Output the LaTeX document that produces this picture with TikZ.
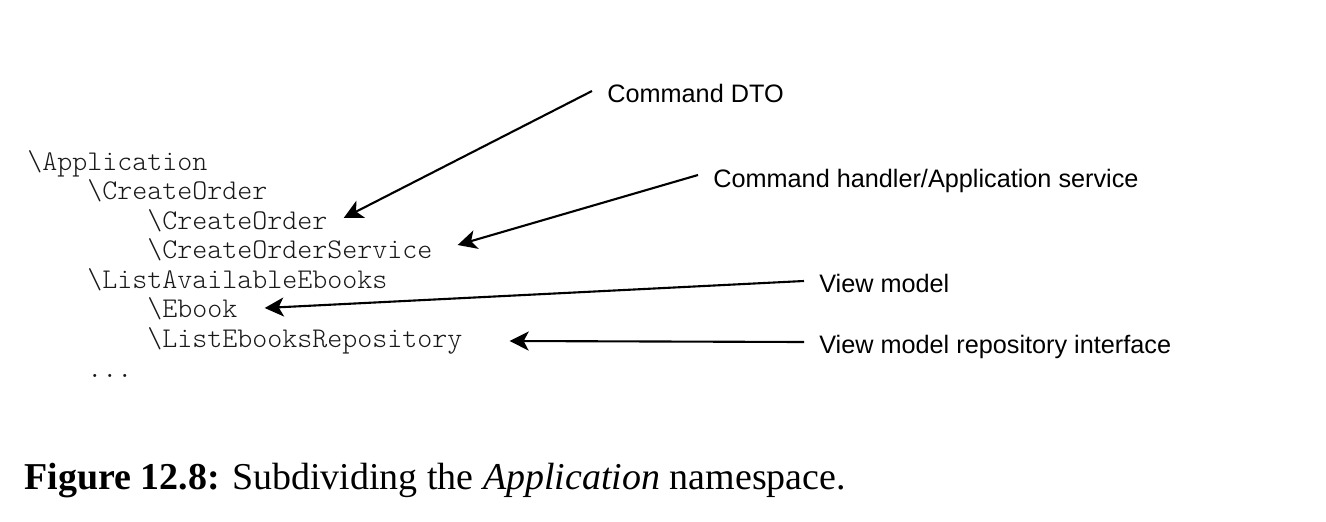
\documentclass[tikz,border=0pt]{standalone}
\usepackage{fontspec}
\setmainfont{Liberation Serif}
\setsansfont{Liberation Sans}
\newfontfamily\codefont{Latin Modern Mono Light}
\usetikzlibrary{arrows.meta,calc}
\tikzset{
  code/.style={inner sep=0pt, anchor=base west, text=black!90,
    font=\codefont\fontsize{16.26pt}{19pt}\selectfont},
  lab/.style={inner xsep=0.3cm, inner ysep=0pt, anchor=base west,
    font=\sffamily\fontsize{14.37pt}{17pt}\selectfont},
  captext/.style={inner sep=0pt, anchor=base west,
    font=\rmfamily\fontsize{21.6pt}{26pt}\selectfont},
  pointer/.style={line width=1.2pt,
    -{Stealth[length=0.38cm,width=0.38cm,inset=0.1cm]}}
}
\begin{document}
\begin{tikzpicture}[x=0.02cm,y=-0.02cm]
\useasboundingbox (0,0) rectangle (1326,521);
% code tree
\node[code] (c1) at (27,170) {\textbackslash Application};
\node[code] (c2) at (87,199.5) {\textbackslash CreateOrder};
\node[code] (c3) at (147,229) {\textbackslash CreateOrder};
\node[code] (c4) at (147,258.5) {\textbackslash CreateOrderService};
\node[code] (c5) at (87,288) {\textbackslash ListAvailableEbooks};
\node[code] (c6) at (147,317.5) {\textbackslash Ebook};
\node[code] (c7) at (147,347) {\textbackslash ListEbooksRepository};
\node[code] (c8) at (87,377) {...};
% labels
\node[lab] (l1) at (592,102) {Command DTO};
\node[lab] (l2) at (698,187) {Command handler/Application service};
\node[lab] (l3) at (804,292) {View model};
\node[lab] (l4) at (804,353) {View model repository interface};
% connectors
\draw[pointer] ($(l1.base west)+(0,-11)$) -- ($(c3.base east)+(16,-11)$);
\draw[pointer] ($(l2.base west)+(0,-12)$) -- ($(c4.base east)+(25,-13.5)$);
\draw[pointer] ($(l3.base west)+(0,-11)$) -- ($(c6.base east)+(27,-9.5)$);
\draw[pointer] ($(l4.base west)+(0,-11)$) -- ($(c7.base east)+(47,-6)$);
% caption
\node[captext] (caption) at (24,489) {\textbf{Figure 12.8:} Subdividing the \textit{Application} namespace.};
\end{tikzpicture}
\end{document}
